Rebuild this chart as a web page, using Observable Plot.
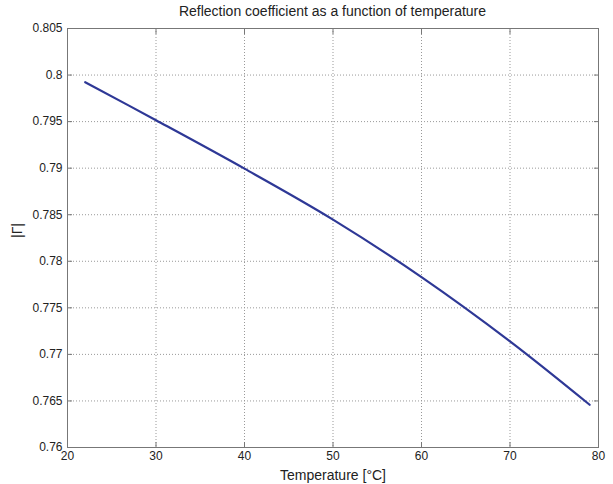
<!DOCTYPE html>
<html>
<head>
<meta charset="utf-8">
<script src="https://cdn.jsdelivr.net/npm/d3@7"></script>
<script src="https://cdn.jsdelivr.net/npm/@observablehq/plot@0.6"></script>
<style>
  body { margin: 0; background: #fff; font-family: "Liberation Sans", Arial, sans-serif; }
  #wrap { position: relative; width: 613px; height: 484px; }
  #title { position: absolute; left: 67px; width: 531px; top: 3px; text-align: center;
           font-size: 14px; color: #222; }
</style>
</head>
<body>
<div id="wrap">
  <div id="title">Reflection coefficient as a function of temperature</div>
</div>
<script>
// Temperature readings (°C) and the magnitude of the reflection coefficient
const temperature = [22, 30, 40, 50, 60, 70, 79];
const gammaMag = [0.79923, 0.79515, 0.78995, 0.78448, 0.7783, 0.7714, 0.76459];

const xTicks = [20, 30, 40, 50, 60, 70, 80];
const yTicks = [0.76, 0.765, 0.77, 0.775, 0.78, 0.785, 0.79, 0.795, 0.8, 0.805];

const rows = temperature.map((t, i) => ({t, g: gammaMag[i]}));

const fmtY = d => d3.format(".3~f")(d);
const grid = {stroke: "#999", strokeOpacity: 1, strokeDasharray: "1,2"};
// short ticks pointing into the plot area on all four sides
const inner = {stroke: "#777", tickSize: 5, text: null, label: null};

const chart = Plot.plot({
  width: 613,
  height: 484,
  marginTop: 28,
  marginLeft: 67,
  marginRight: 15,
  marginBottom: 37,
  style: {fontFamily: "Liberation Sans, Arial, sans-serif", color: "#222", background: "#fff"},
  x: {domain: [20, 80]},
  y: {domain: [0.76, 0.805]},
  marks: [
    Plot.gridX(xTicks.slice(1, -1), grid),
    Plot.gridY(yTicks.slice(1, -1), grid),
    Plot.axisX(xTicks, {anchor: "bottom", ...inner, dy: -5}),
    Plot.axisX(xTicks, {anchor: "top", ...inner, dy: 5}),
    Plot.axisY(yTicks, {anchor: "left", ...inner, dx: 5}),
    Plot.axisY(yTicks, {anchor: "right", ...inner, dx: -5}),
    Plot.axisX(xTicks, {anchor: "bottom", tickSize: 0, tickPadding: 4, label: null}),
    Plot.axisY(yTicks, {anchor: "left", tickSize: 0, tickPadding: 5, label: null, tickFormat: fmtY}),
    Plot.frame({stroke: "#777"}),
    Plot.line(rows, {x: "t", y: "g", stroke: "#2E3896", strokeWidth: 2.2, curve: "catmull-rom"}),
    Plot.text(["Temperature [°C]"], {frameAnchor: "bottom", lineAnchor: "middle", dy: 28, fontSize: 14, fill: "#222", text: d => d}),
    Plot.text(["|Γ|"], {frameAnchor: "left", lineAnchor: "middle", dx: -50, rotate: -90, fontSize: 14, fill: "#222", text: d => d})
  ]
});
// tick labels a little larger than Plot's 10px default
d3.select(chart)
  .selectAll('g[aria-label="x-axis tick label"] text, g[aria-label="y-axis tick label"] text')
  .style("font-size", "12px");
document.getElementById("wrap").prepend(chart);
</script>
</body>
</html>
